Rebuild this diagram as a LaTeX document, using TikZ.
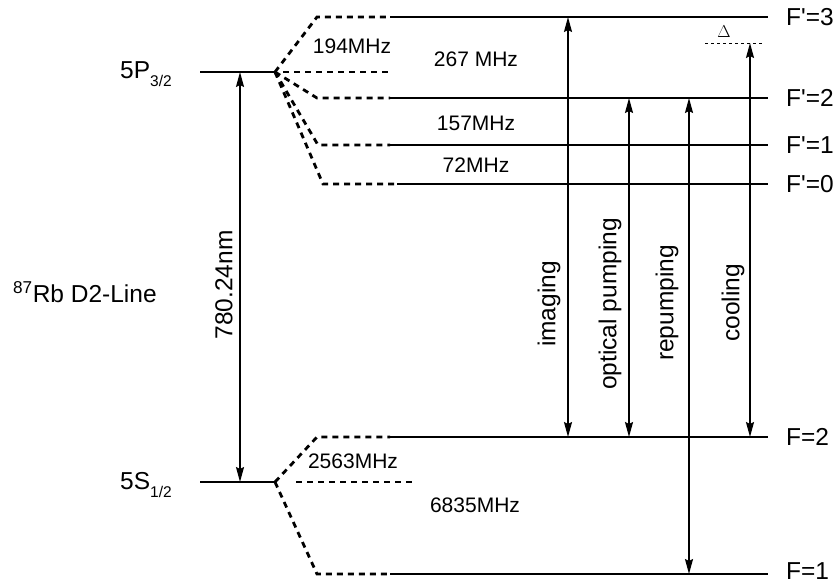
\documentclass[tikz,border=0pt]{standalone}
\usepackage{fontspec}
\setmainfont{Liberation Sans}
\usetikzlibrary{arrows.meta}
\tikzset{
  level/.style={line width=2.8bp},
  sublevel/.style={line width=2.8bp,dash pattern=on 6bp off 5bp},
  trans/.style={line width=1.7bp,{Stealth[length=15bp,width=8bp,inset=2bp]}-{Stealth[length=15bp,width=8bp,inset=2bp]}},
  big/.style={inner sep=0pt,font=\fontsize{24.5bp}{28bp}\selectfont},
  small/.style={inner sep=0pt,font=\fontsize{21bp}{25bp}\selectfont},
}
\begin{document}
\begin{tikzpicture}[x=1bp,y=-1bp]
\useasboundingbox (0,0) rectangle (838,585);

% 5P_{3/2} and its hyperfine fan.
\coordinate (P) at (275,72);
\draw[level] (200,72) -- (P);
\draw[sublevel] (283,72) -- (392,72);
\foreach \f/\y/\xc/\xs in {3/17/317/390,2/98/317/390,1/145/318/390,0/184/323/397}{
  \coordinate (Fp\f) at (\xc,\y);
  \draw[sublevel] (P) -- (Fp\f) -- (\xs,\y);
  \draw[level] (\xs,\y) -- (768,\y);
  \node[big,anchor=west] (lFp\f) at (786,\y) {F\textquotesingle=\f};
}

% 5S_{1/2} and its hyperfine fan.
\coordinate (S) at (275,482);
\draw[level] (200,482) -- (S);
\draw[sublevel] (296,482) -- (413,482);
\foreach \f/\y/\ly in {2/437/437,1/574/571}{
  \coordinate (F\f) at (317,\y);
  \draw[sublevel] (S) -- (F\f) -- (390,\y);
  \draw[level] (390,\y) -- (768,\y);
  \node[big,anchor=west] (lF\f) at (786,\ly) {F=\f};
}

% Splittings.
\node[small] (s194) at (352,46) {194MHz};
\node[small] (s267) at (476,59) {267 MHz};
\node[small] (s157) at (476,123) {157MHz};
\node[small] (s72) at (476,165) {72MHz};
\node[small] (s2563) at (353,461) {2563MHz};
\node[small] (s6835) at (475,505) {6835MHz};

% Fine structure labels.
\node[big,anchor=base west] (l5P) at (120,79) {5P\raisebox{-8bp}{\fontsize{15.5bp}{18bp}\selectfont 3/2}};
\node[big,anchor=base west] (l5S) at (120,489) {5S\raisebox{-8bp}{\fontsize{15.5bp}{18bp}\selectfont 1/2}};
\node[big,anchor=base west] (lRb) at (13,302) {\textsuperscript{87}Rb D2-Line};

% D2 transition.
\coordinate (d2u) at (240,72);
\coordinate (d2l) at (240,482);
\draw[trans] (d2u) -- (d2l);
\node[big,rotate=90] (ld2) at (224,285) {780.24nm};

% Detuning of the cooling light.
\coordinate (detl) at (705,43);
\coordinate (detr) at (763,43);
\draw[line width=0.9bp,dash pattern=on 3bp off 3bp] (detl) -- (detr);
\node[inner sep=0pt,font=\fontsize{17bp}{19bp}\selectfont] (ldet) at (724,32) {$\Delta$};

% Laser transitions.
\foreach \nm/\x/\yu/\yl/\lx/\ly/\txt in {img/568/17/437/549/304/imaging,
    op/629/98/437/610/304/optical pumping,
    rep/689/98/574/667/303/repumping,
    cool/750/43/437/733/303/cooling}{
  \coordinate (\nm u) at (\x,\yu);
  \coordinate (\nm l) at (\x,\yl);
  \draw[trans] (\nm u) -- (\nm l);
  \node[big,rotate=90] (l\nm) at (\lx,\ly) {\txt};
}
\end{tikzpicture}
\end{document}
